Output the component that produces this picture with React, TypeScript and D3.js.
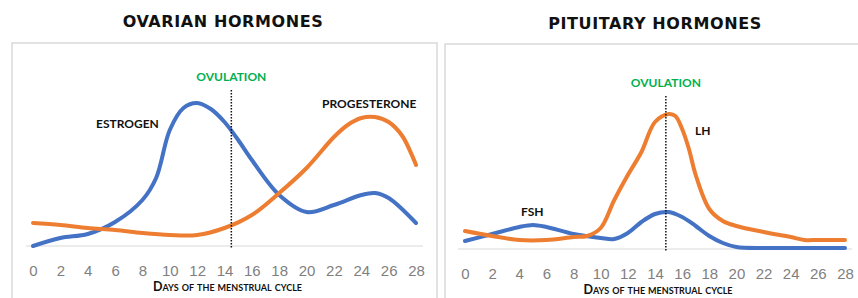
import React, { useEffect, useRef } from "react";
import * as d3 from "d3";

// days of the cycle used on the x axis
const dayTicks = [0, 2, 4, 6, 8, 10, 12, 14, 16, 18, 20, 22, 24, 26, 28];

// ovarian hormones (relative level)
const estrogenDays = [0, 2, 4, 6, 8, 9, 10, 11, 12, 13, 14, 15, 16, 18, 20, 22, 24, 25, 26, 28];
const estrogenLevel = [0, 8, 12, 24, 46, 68, 116, 138, 143, 137, 124, 106, 86, 51, 34, 41, 51, 53, 48, 23];

const progesteroneDays = [0, 2, 4, 6, 8, 10, 12, 14, 16, 18, 20, 22, 23, 24, 25, 26, 27, 28];
const progesteroneLevel = [23, 21, 18, 16, 13, 11, 11, 18, 31, 53, 78, 109, 121, 128, 129, 124, 110, 81];

// pituitary hormones (relative level)
const fshDays = [0, 2, 4, 5, 6, 8, 10, 11, 12, 13, 14, 15, 16, 17, 18, 19, 20, 22, 24, 26, 28];
const fshLevel = [8, 15, 22, 24, 22, 15, 11, 10, 16, 27, 35, 37, 32, 23, 13, 6, 2, 1, 1, 1, 1];

const lhDays = [0, 2, 4, 6, 8, 9, 10, 11, 12, 13, 14, 15, 15.5, 16, 16.5, 17, 18, 19, 20, 22, 24, 25, 26, 28];
const lhLevel = [18, 13, 9, 9, 12, 13, 21, 49, 74, 97, 127, 135, 133, 120, 100, 74, 40, 28, 23, 17, 12, 9, 9, 9];

const ovarianOvulation = 14.5;
const pituitaryOvulation = 14.8;

const BLUE = "#4472c4";
const ORANGE = "#ed7d31";
const GREEN = "#00b050";

type Series = { days: number[]; level: number[]; color: string };
type Label = { text: string; x: number; y: number };

type PanelProps = {
  title: string;
  titleX: number;
  titleY: number;
  box: [number, number, number, number];
  x0: number;
  x1: number;
  base: number;
  gridFrom: number;
  gridTo: number;
  ovulation: number;
  ovTop: number;
  series: Series[];
  labels: Label[];
};

function Panel(p: PanelProps) {
  const ref = useRef<SVGGElement>(null);

  useEffect(() => {
    const g = d3.select(ref.current);
    g.selectAll("*").remove();

    const x = d3.scaleLinear().domain([0, 28]).range([p.x0, p.x1]);
    const y = d3.scaleLinear().domain([0, 150]).range([p.base, p.base - 150]);

    g.append("rect")
      .attr("x", p.box[0])
      .attr("y", p.box[1])
      .attr("width", p.box[2])
      .attr("height", p.box[3])
      .attr("fill", "#fff")
      .attr("stroke", "#d9d9d9")
      .attr("stroke-width", 1.5);

    g.append("text")
      .attr("x", p.titleX)
      .attr("y", p.titleY)
      .attr("text-anchor", "middle")
      .style("font-family", "DejaVu Sans, sans-serif")
      .style("font-weight", "bold")
      .style("font-size", "16px")
      .style("letter-spacing", "0.6px")
      .attr("fill", "#111")
      .text(p.title);

    g.append("line")
      .attr("x1", p.gridFrom)
      .attr("x2", p.gridTo)
      .attr("y1", y(0))
      .attr("y2", y(0))
      .attr("stroke", "#d9d9d9")
      .attr("stroke-width", 1.2);

    const axis = g
      .append("g")
      .attr("transform", `translate(0, ${p.base + 16})`)
      .call(d3.axisBottom(x).tickValues(dayTicks).tickSize(0).tickFormat(d3.format("d")));
    axis.select(".domain").remove();
    axis
      .selectAll("text")
      .style("font-family", "Liberation Sans Narrow, sans-serif")
      .style("font-size", "15px")
      .attr("fill", "#7f7f7f");

    g.append("text")
      .attr("x", (p.x0 + p.x1) / 2 + 3)
      .attr("y", p.base + 45)
      .attr("text-anchor", "middle")
      .style("font-family", "Lato, sans-serif")
      .style("font-weight", "bold")
      .style("font-size", "12.5px")
      .style("font-variant", "small-caps")
      .attr("fill", "#111")
      .text("Days of the menstrual cycle");

    p.series.forEach((s) => {
      const path = d3
        .line<number>()
        .x((d) => x(d))
        .y((_, i) => y(s.level[i]))
        .curve(d3.curveCatmullRom.alpha(0.5));
      g.append("path")
        .attr("d", path(s.days))
        .attr("fill", "none")
        .attr("stroke", s.color)
        .attr("stroke-width", 4)
        .attr("stroke-linecap", "round");
    });

    g.append("line")
      .attr("x1", x(p.ovulation))
      .attr("x2", x(p.ovulation))
      .attr("y1", p.ovTop)
      .attr("y2", p.base + 3)
      .attr("stroke", "#111")
      .attr("stroke-width", 1.5)
      .attr("stroke-dasharray", "1.5,1.5");

    g.append("text")
      .attr("x", x(p.ovulation))
      .attr("y", p.ovTop - 9)
      .attr("text-anchor", "middle")
      .style("font-family", "Lato, sans-serif")
      .style("font-weight", "bold")
      .style("font-size", "12px")
      .attr("fill", GREEN)
      .text("OVULATION");

    p.labels.forEach((l) => {
      g.append("text")
        .attr("x", l.x)
        .attr("y", l.y)
        .style("font-family", "Lato, sans-serif")
        .style("font-weight", "bold")
        .style("font-size", "12px")
        .attr("fill", "#111")
        .text(l.text);
    });
  }, []);

  return <g ref={ref} />;
}

export default function App() {
  return (
    <svg
      width={858}
      height={298}
      style={{ position: "absolute", left: 0, top: 0, background: "#fff" }}
    >
      <Panel
        title="OVARIAN HORMONES"
        titleX={223}
        titleY={27}
        box={[12, 43, 425, 270]}
        x0={33}
        x1={416}
        base={246}
        gridFrom={26}
        gridTo={423}
        ovulation={ovarianOvulation}
        ovTop={90}
        series={[
          { days: estrogenDays, level: estrogenLevel, color: BLUE },
          { days: progesteroneDays, level: progesteroneLevel, color: ORANGE },
        ]}
        labels={[
          { text: "ESTROGEN", x: 96, y: 128 },
          { text: "PROGESTERONE", x: 322, y: 108 },
        ]}
      />
      <Panel
        title="PITUITARY HORMONES"
        titleX={655}
        titleY={29}
        box={[445, 44, 425, 270]}
        x0={465}
        x1={845}
        base={249}
        gridFrom={458}
        gridTo={852}
        ovulation={pituitaryOvulation}
        ovTop={96}
        series={[
          { days: fshDays, level: fshLevel, color: BLUE },
          { days: lhDays, level: lhLevel, color: ORANGE },
        ]}
        labels={[
          { text: "LH", x: 695, y: 135 },
          { text: "FSH", x: 521, y: 216 },
        ]}
      />
    </svg>
  );
}
